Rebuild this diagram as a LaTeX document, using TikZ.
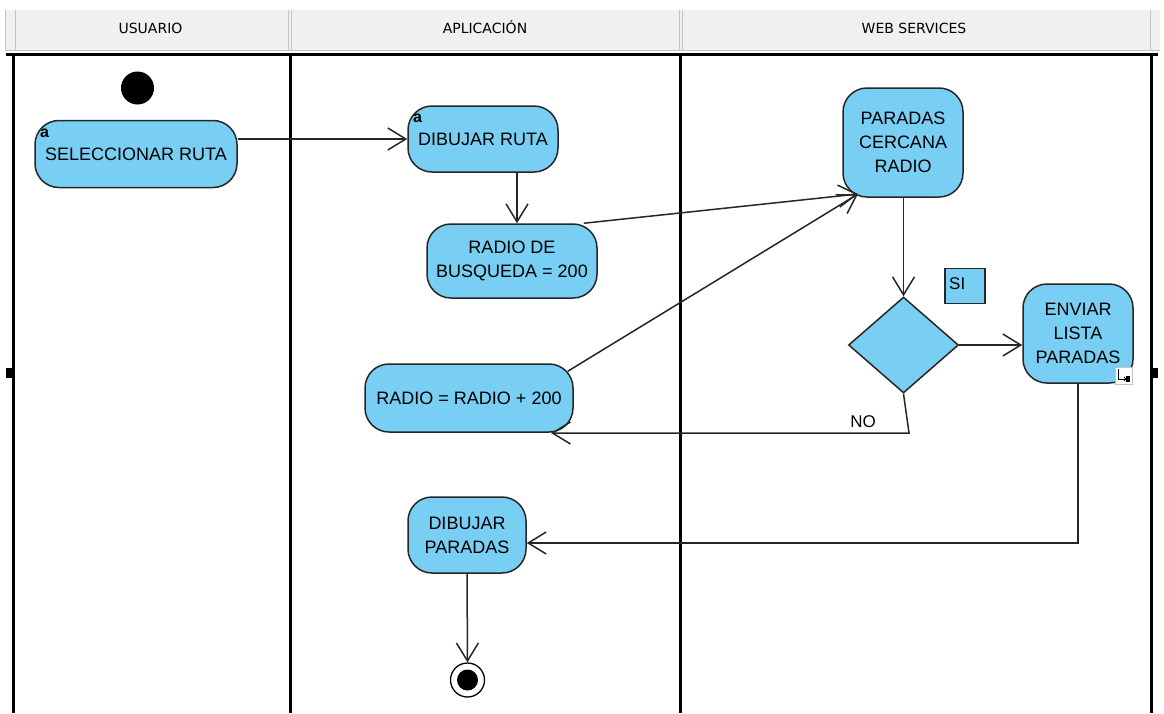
\documentclass[tikz,border=0pt]{standalone}
\usepackage{fontspec}
\setmainfont{Liberation Sans}
\newfontfamily\hdrfont{DejaVu Sans}
\usetikzlibrary{arrows.meta,shapes.geometric}
\definecolor{actfill}{HTML}{79CFF3}
\definecolor{hdrfill}{HTML}{F0F0F0}
\definecolor{hdrline}{HTML}{C4C4C4}
\definecolor{edge}{HTML}{262626}
\tikzset{
  act/.style={draw=edge, line width=1.5pt, fill=actfill, rounded corners=24pt,
    align=center, inner sep=0pt, font=\fontsize{18}{24}\selectfont},
  flow/.style={draw=edge, line width=1.5pt, -{Straight Barb[length=18pt,width=22pt]}},
  lane/.style={line width=3pt, black},
  hdr/.style={font=\hdrfont\fontsize{14}{16}\selectfont, anchor=base, inner sep=0pt},
  tag/.style={font=\bfseries\fontsize{16}{16}\selectfont, anchor=base west, inner sep=0pt},
}
\begin{document}
\begin{tikzpicture}[x=1pt,y=-1pt]
  \useasboundingbox (0,0) rectangle (1164,713);
  \fill[white] (0,0) rectangle (1164,713);

  % swimlane header band
  \fill[hdrfill] (5,10) rectangle (1160,50);
  \draw[hdrline, line width=1pt]
    (5,10) -- (5,50) (15,10) -- (15,50)
    (288,10) -- (288,50) (291,10) -- (291,50)
    (679,10) -- (679,50) (682,10) -- (682,50)
    (1150,10) -- (1150,50)
    (5,50) -- (1160,50);
  \node[hdr] (husr) at (150.5,33.5) {USUARIO};
  \node[hdr] (happ) at (485,33.5) {APLICACIÓN};
  \node[hdr] (hweb) at (914,33.5) {WEB SERVICES};

  % lane frame
  \draw[lane] (6,54) -- (1158,54);
  \draw[lane] (13,54) -- (13,713);
  \draw[lane] (290,54) -- (290,713);
  \draw[lane] (680,54) -- (680,713);
  \draw[lane] (1151,54) -- (1151,713);
  \fill (6,368) rectangle (13,378);
  \fill (1151,368) rectangle (1158,378);

  % start and end
  \node[circle, fill=black, minimum size=33pt, inner sep=0pt] (ini) at (137.5,88) {};
  \node[circle, draw=black, line width=1.3pt, fill=white, minimum size=34pt, inner sep=0pt] (fin) at (467.5,680) {};
  \fill (fin.center) circle (10.5);

  % actions
  \node[act, minimum width=202pt, minimum height=67pt] (sel) at (136,154) {SELECCIONAR RUTA};
  \node[tag] (sela) at (40,137) {a};
  \node[act, minimum width=150pt, minimum height=66pt] (dr) at (483,139) {DIBUJAR RUTA};
  \node[tag] (dra) at (413,122) {a};
  \node[act, minimum width=170pt, minimum height=74pt] (rb) at (512,261) {RADIO DE\\BUSQUEDA = 200};
  \node[act, minimum width=208pt, minimum height=68pt] (rr) at (469,398) {RADIO = RADIO + 200};
  \node[act, minimum width=118pt, minimum height=76pt] (dp) at (467,535) {DIBUJAR\\PARADAS};
  \node[act, minimum width=120pt, minimum height=109pt] (pc) at (903,142.5) {PARADAS\\CERCANA\\RADIO};
  \node[act, minimum width=110pt, minimum height=99pt] (en) at (1078,333.5) {ENVIAR\\LISTA\\PARADAS};

  % decision
  \node[diamond, draw=edge, line width=1.5pt, fill=actfill, minimum width=110pt,
        minimum height=96pt, inner sep=0pt] (dec) at (903.5,345) {};
  \node[draw=edge, line width=1.3pt, fill=actfill, minimum width=40pt, minimum height=35pt,
        inner sep=0pt] (si) at (965,286) {};
  \node[anchor=base west, inner sep=0pt, font=\fontsize{17}{17}\selectfont] (silbl) at (949,289) {SI};
  \node[anchor=base, inner sep=0pt, font=\fontsize{17}{17}\selectfont] (nolbl) at (863,427) {NO};

  % resize handle on the selected action
  \node[draw=hdrline, fill=white, minimum size=17pt, inner sep=0pt] (ico) at (1123.5,375.5) {};
  \draw[line width=0.9pt] (1118,369) -- (1118,379) -- (1126,379);
  \draw[line width=0.8pt] (1124,377) -- (1126,379) -- (1124,381);
  \fill (1126,376) rectangle (1130,382);

  % flows
  \coordinate (pin) at (858,194);
  \coordinate (nobend) at (909,433);
  \coordinate (noend) at (551,433);
  \draw[flow] (sel.east |- dr.west) -- (dr.west);
  \draw[flow] ([xshift=34pt]dr.south) -- ([xshift=34pt]dr.south |- rb.north);
  \draw[flow] ([xshift=-14pt]rb.north east) -- (pin);
  \draw[flow] ([xshift=-6pt,yshift=-8pt]rr.north east) -- (pin);
  \draw[flow] (dec.north |- pc.south) -- (dec.north);
  \draw[flow] (dec.east) -- (en.west |- dec.east);
  \draw[flow] (dec.south) -- (nobend) -- (noend);
  \draw[flow] (en.south) |- ([yshift=-8pt]dp.east);
  \draw[flow] (dp.south) -- (fin.north);
\end{tikzpicture}
\end{document}
